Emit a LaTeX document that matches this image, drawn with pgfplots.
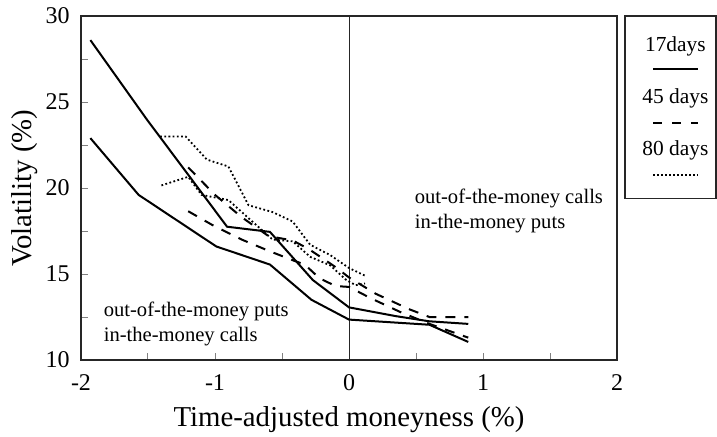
\documentclass[border=0pt]{standalone}
\usepackage{fontspec}
\setmainfont{Liberation Serif}
\usepackage{pgfplots}
\pgfplotsset{compat=1.18}

\begin{document}
\begin{tikzpicture}
\useasboundingbox (-40.5pt,-38pt) rectangle (318pt,180pt);
\begin{axis}[
    width=268pt, height=172pt, scale only axis,
    xmin=-2, xmax=2, ymin=10, ymax=30,
    xtick={-2,-1,0,1,2}, minor xtick={-1.5,-0.5,0.5,1.5},
    ytick={10,15,20,25,30}, minor ytick={12.5,17.5,22.5,27.5},
    tick pos=left, tick align=inside,
    major tick length=3.5pt, minor tick length=3.5pt,
    every tick/.style={gray, line width=0.5pt},
    axis line style={line width=0.6pt, black!85},
    /pgf/number format/assume math mode=true,
    ticklabel style={font=\fontsize{12}{14}\selectfont},
    xticklabel style={anchor=base, yshift=-15pt, inner sep=0pt},
    yticklabel style={anchor=east, xshift=-5.5pt, inner sep=0pt},
    xlabel={Time-adjusted moneyness (\%)},
    ylabel={Volatility (\%)},
    label style={font=\fontsize{14.4}{16}\selectfont},
    xlabel style={at={(axis description cs:0.5,-0.194)}, anchor=base},
    ylabel style={at={(axis description cs:-0.092,0.5)}, anchor=base},
    clip=false,
]
% vertical line at zero moneyness
\draw[line width=0.5pt, black!85] (axis cs:0,10) -- (axis cs:0,30);

% 17 days
\addplot[black, line width=1pt] coordinates {
    (-1.93,28.6) (-1.51,24.0) (-0.91,17.75) (-0.59,17.45)
    (-0.27,14.65) (0,13.06) (0.35,12.55) (0.6,12.25) (0.89,12.1)
};
\addplot[black, line width=1pt] coordinates {
    (-1.93,22.9) (-1.57,19.6) (-0.99,16.6) (-0.59,15.55) (-0.28,13.5)
    (0,12.35) (0.6,12.05) (0.89,11.05)
};

% 45 days
\addplot[black, line width=1pt, dash pattern=on 5pt off 4.5pt] coordinates {
    (-1.2,21.2) (-1.0,19.6) (-0.8,18.3) (-0.6,17.2) (-0.42,16.95)
    (-0.3,16.45) (-0.1,15.4) (0,14.8) (0.2,13.85) (0.45,12.95)
    (0.6,12.5) (0.89,12.5)
};
\addplot[black, line width=1pt, dash pattern=on 5pt off 4.5pt] coordinates {
    (-1.2,18.65) (-1.02,17.85) (-0.8,17.0) (-0.6,16.35) (-0.42,15.8)
    (-0.33,15.55) (-0.22,14.75) (-0.1,14.3) (0,14.25) (0.16,13.6)
    (0.38,12.8) (0.6,12.1) (0.89,11.3)
};

% 80 days
\addplot[black, line width=0.9pt, dash pattern=on 0.9pt off 1.2pt] coordinates {
    (-1.41,23.0) (-1.22,23.0) (-1.06,21.65) (-0.9,21.25) (-0.75,19.0)
    (-0.57,18.6) (-0.42,18.05) (-0.29,16.7) (-0.14,16.1) (0,15.35)
    (0.12,14.9)
};
\addplot[black, line width=0.9pt, dash pattern=on 0.9pt off 1.2pt] coordinates {
    (-1.4,20.15) (-1.2,20.65) (-1.1,19.6) (-0.9,19.3) (-0.75,18.25)
    (-0.57,17.0) (-0.42,16.9) (-0.29,16.0) (-0.14,15.5) (-0.02,14.65)
    (0.05,14.35) (0.12,14.45)
};
\end{axis}

% region notes
\begin{scope}[every node/.style={anchor=base west, inner sep=0pt,
        font=\fontsize{10.3}{12}\selectfont}]
\node at (166.7pt,78.2pt) {out-of-the-money calls};
\node at (166.7pt,65.85pt) {in-the-money puts};
\node at (11.2pt,21.7pt) {out-of-the-money puts};
\node at (11.2pt,9.2pt) {in-the-money calls};
\end{scope}

% legend box
\draw[line width=0.6pt, black!85] (272pt,80.8pt) rectangle (317.5pt,172pt);
\begin{scope}[every node/.style={anchor=base, inner sep=0pt,
        font=\fontsize{10.7}{12}\selectfont}]
\node at (297.2pt,154.2pt) {17days};
\node at (297.2pt,128.3pt) {45 days};
\node at (297.2pt,102.5pt) {80 days};
\end{scope}
\draw[black, line width=1pt] (286.2pt,145.3pt) -- (308.7pt,145.3pt);
\draw[black, line width=1pt, dash pattern=on 4.5pt off 5pt] (286.2pt,118.3pt) -- (308.7pt,118.3pt);
\draw[black, line width=0.9pt, dash pattern=on 0.9pt off 1.1pt] (286.2pt,92.5pt) -- (308.7pt,92.5pt);
\end{tikzpicture}
\end{document}
